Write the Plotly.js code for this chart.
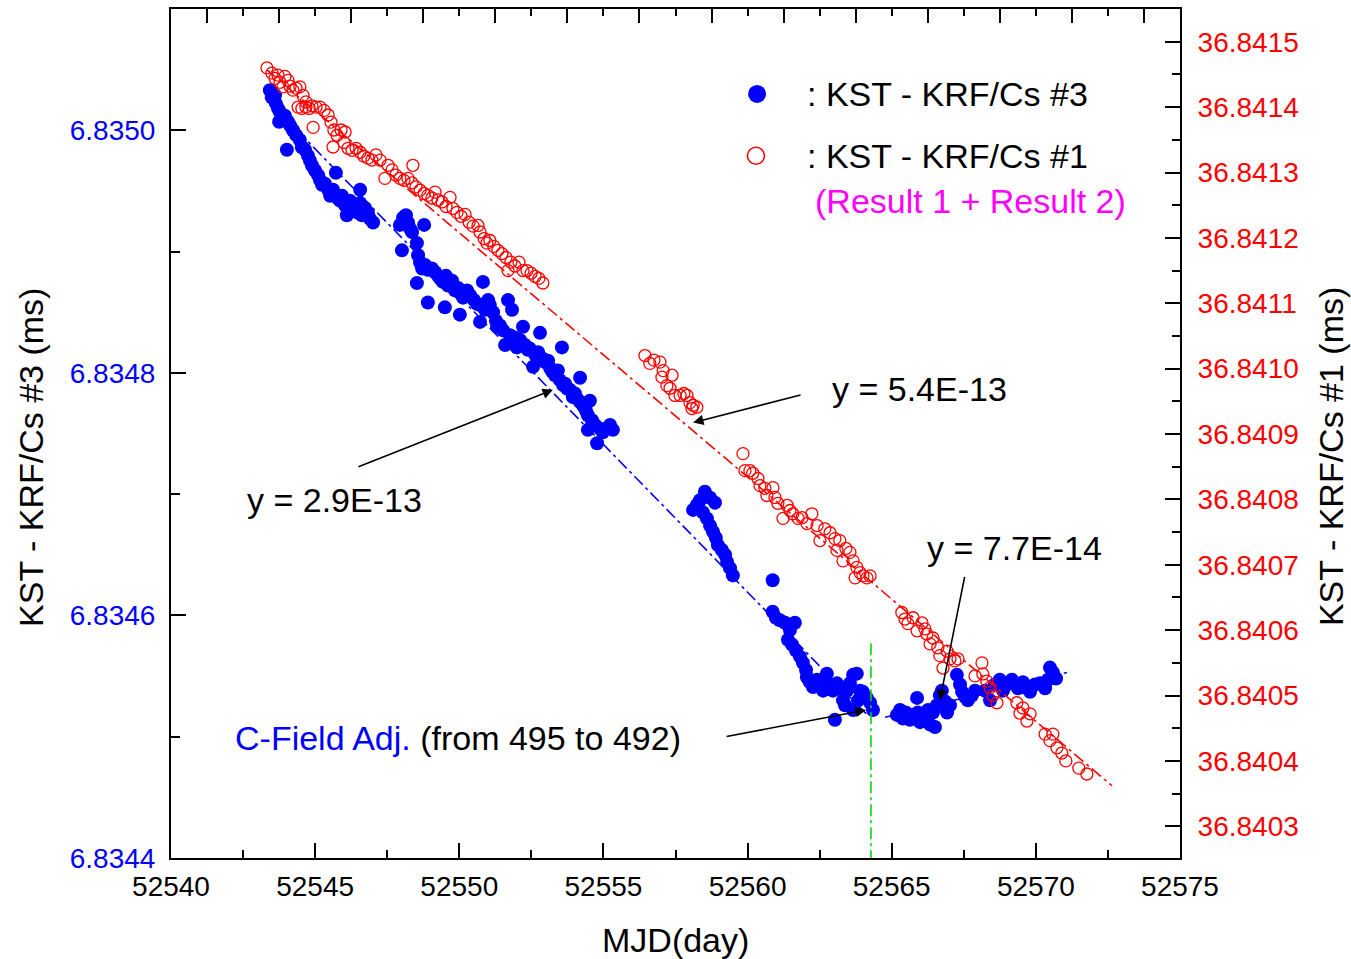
<!DOCTYPE html>
<html>
<head>
<meta charset="utf-8">
<script src="https://cdn.plot.ly/plotly-3.0.1.min.js"></script>
<style>
  html, body { margin: 0; padding: 0; background: #ffffff; }
  #chart { width: 1351px; height: 959px; }
</style>
</head>
<body>
<div id="chart"></div>
<script>
// KST - KRF/Cs #3 time differences (MJD, ms), left axis
const cs3Points = [
  [52543.43,6.835033],[52543.50,6.835027],[52543.61,6.835029],[52543.64,6.835022],[52543.71,6.835018],
  [52543.78,6.835015],[52543.85,6.835010],[52543.75,6.835007],[52543.95,6.835012],[52544.06,6.835007],
  [52544.13,6.835004],[52544.02,6.834984],[52544.23,6.835000],[52544.34,6.834996],[52544.47,6.834992],
  [52544.54,6.834986],[52544.65,6.834984],[52544.75,6.834979],[52544.82,6.834975],[52544.89,6.834971],
  [52544.99,6.834967],[52545.10,6.834963],[52545.17,6.834959],[52545.24,6.834955],[52545.34,6.834956],
  [52545.45,6.834951],[52545.52,6.834946],[52545.62,6.834951],[52545.72,6.834965],[52545.79,6.834944],
  [52545.86,6.834942],[52545.93,6.834946],[52546.04,6.834938],[52546.10,6.834930],[52546.21,6.834942],
  [52546.28,6.834936],[52546.38,6.834938],[52546.49,6.834932],[52546.56,6.834951],[52546.56,6.834940],
  [52546.63,6.834930],[52546.73,6.834936],[52546.83,6.834932],[52546.90,6.834927],[52547.01,6.834924],

  [52547.94,6.834922],[52548.05,6.834928],[52548.15,6.834930],[52548.22,6.834924],[52548.29,6.834919],
  [52548.36,6.834916],[52548.78,6.834922],[52548.01,6.834901],[52548.53,6.834907],[52548.57,6.834897],
  [52548.64,6.834891],[52548.71,6.834886],[52548.81,6.834889],[52548.91,6.834885],[52549.05,6.834886],
  [52549.16,6.834883],[52549.26,6.834880],[52549.33,6.834878],[52549.43,6.834875],[52549.54,6.834880],
  [52549.61,6.834872],[52549.68,6.834872],[52549.75,6.834876],[52549.85,6.834868],[52549.96,6.834870],
  [52550.02,6.834866],[52548.53,6.834874],[52548.91,6.834858],[52549.50,6.834854],[52550.02,6.834848],
  [52550.13,6.834862],[52550.27,6.834868],[52550.37,6.834864],[52550.51,6.834860],[52550.61,6.834857],
  [52550.72,6.834856],[52550.82,6.834875],[52550.89,6.834852],[52551.00,6.834860],[52551.06,6.834856],
  [52551.17,6.834850],[52551.27,6.834843],[52550.72,6.834842],[52551.31,6.834838],[52551.41,6.834839],
  [52551.52,6.834835],[52551.59,6.834823],[52551.69,6.834860],[52551.83,6.834852],[52551.76,6.834831],
  [52551.93,6.834829],[52552.00,6.834821],[52552.11,6.834827],[52552.21,6.834838],[52552.28,6.834823],
  [52552.38,6.834819],[52552.45,6.834820],[52552.56,6.834805],[52552.63,6.834815],[52552.73,6.834817],
  [52552.80,6.834833],[52552.87,6.834812],[52552.97,6.834809],[52553.08,6.834810],[52553.15,6.834804],
  [52553.22,6.834801],[52553.32,6.834798],[52553.42,6.834802],[52553.49,6.834794],[52553.56,6.834821],
  [52553.60,6.834790],[52553.67,6.834791],[52553.74,6.834787],[52553.84,6.834786],[52553.94,6.834780],
  [52554.01,6.834783],[52554.08,6.834779],[52554.19,6.834796],[52554.19,6.834776],[52554.29,6.834773],
  [52554.39,6.834769],[52554.46,6.834765],[52554.53,6.834777],[52554.60,6.834761],[52554.46,6.834753],
  [52554.71,6.834757],[52554.78,6.834742],[52554.88,6.834754],[52554.98,6.834751],[52555.09,6.834754],
  [52555.23,6.834757],[52555.33,6.834753],

  [52558.11,6.834687],[52558.24,6.834691],[52558.35,6.834695],[52558.52,6.834702],[52558.70,6.834697],
  [52558.87,6.834693],[52558.45,6.834685],[52558.59,6.834680],[52558.70,6.834674],[52558.80,6.834669],
  [52558.90,6.834664],[52558.97,6.834658],[52559.11,6.834654],[52559.22,6.834650],[52559.29,6.834644],
  [52559.39,6.834639],[52559.49,6.834633],[52560.87,6.834629],

  [52560.87,6.834603],[52560.98,6.834598],[52561.12,6.834596],[52561.30,6.834594],[52561.64,6.834594],
  [52561.47,6.834588],[52561.40,6.834580],[52561.54,6.834576],[52561.68,6.834571],[52561.82,6.834566],
  [52561.92,6.834561],[52562.03,6.834555],[52562.06,6.834549],[52562.16,6.834545],[52562.27,6.834541],
  [52562.41,6.834547],[52562.51,6.834543],[52562.62,6.834538],[52562.75,6.834552],[52562.86,6.834543],
  [52562.96,6.834538],[52563.10,6.834544],[52563.20,6.834540],[52563.31,6.834530],[52563.45,6.834538],
  [52563.55,6.834544],[52563.66,6.834551],[52563.79,6.834552],[52563.90,6.834538],[52564.00,6.834537],
  [52564.14,6.834532],[52564.25,6.834528],[52564.35,6.834522],[52563.66,6.834522],[52563.03,6.834514],
  [52563.38,6.834526],[52563.83,6.834530],

  [52565.18,6.834518],[52565.29,6.834522],[52565.39,6.834515],[52565.49,6.834520],[52565.63,6.834514],
  [52565.74,6.834518],[52565.88,6.834532],[52565.91,6.834520],[52565.98,6.834512],[52566.08,6.834518],
  [52566.19,6.834514],[52566.26,6.834522],[52566.33,6.834510],[52566.43,6.834520],[52566.50,6.834508],
  [52566.57,6.834526],[52566.67,6.834534],[52566.74,6.834538],[52566.85,6.834529],[52566.92,6.834520],
  [52567.02,6.834526],

  [52567.26,6.834551],[52567.37,6.834543],[52567.44,6.834537],[52567.54,6.834533],[52567.64,6.834530],
  [52567.78,6.834534],[52567.89,6.834538],[52568.23,6.834538],[52568.41,6.834530],[52568.58,6.834543],
  [52568.75,6.834547],[52568.86,6.834538],[52569.00,6.834543],[52569.17,6.834547],[52569.38,6.834540],
  [52569.55,6.834545],[52569.69,6.834540],[52569.80,6.834537],[52569.97,6.834543],[52570.14,6.834544],
  [52570.32,6.834540],[52570.42,6.834547],[52570.49,6.834557],[52570.59,6.834553],[52570.70,6.834548]
];

// KST - KRF/Cs #1 time differences (MJD, ms), right axis
const cs1Points = [
  [52543.33,36.841460],[52543.50,36.841452],[52543.61,36.841444],[52543.71,36.841449],[52543.78,36.841438],
  [52543.88,36.841431],[52543.95,36.841447],[52544.06,36.841441],[52544.13,36.841432],[52544.23,36.841426],
  [52544.34,36.841429],[52544.47,36.841431],[52544.58,36.841418],[52544.68,36.841408],[52544.79,36.841398],
  [52544.41,36.841400],[52544.54,36.841398],[52544.68,36.841400],[52544.89,36.841402],[52545.03,36.841400],
  [52545.17,36.841400],[52545.31,36.841395],[52544.93,36.841369],[52545.45,36.841388],[52545.55,36.841377],
  [52545.65,36.841365],[52545.76,36.841357],[52545.90,36.841365],[52546.04,36.841362],[52545.62,36.841339],
  [52546.00,36.841346],[52546.14,36.841337],[52546.28,36.841334],[52546.42,36.841337],[52546.56,36.841331],
  [52546.69,36.841325],[52546.83,36.841322],[52546.97,36.841319],[52547.11,36.841327],[52547.25,36.841319],
  [52547.42,36.841291],[52547.53,36.841311],[52547.67,36.841304],[52547.80,36.841296],[52547.94,36.841291],
  [52548.08,36.841288],[52548.22,36.841291],[52548.39,36.841311],[52548.36,36.841284],[52548.50,36.841278],
  [52548.64,36.841273],[52548.78,36.841268],[52548.91,36.841265],[52549.05,36.841261],[52549.16,36.841270],
  [52549.26,36.841258],[52549.40,36.841255],[52549.54,36.841248],[52549.68,36.841262],[52549.78,36.841245],
  [52549.92,36.841239],[52550.06,36.841233],[52550.20,36.841236],[52550.34,36.841224],[52550.48,36.841218],
  [52550.65,36.841219],[52550.72,36.841209],[52550.86,36.841199],[52550.96,36.841192],[52551.06,36.841196],
  [52551.20,36.841187],[52551.34,36.841181],[52551.48,36.841176],[52551.62,36.841170],[52551.69,36.841150],
  [52551.79,36.841163],[52551.93,36.841157],[52552.07,36.841163],[52552.21,36.841150],[52552.35,36.841150],
  [52552.49,36.841146],[52552.63,36.841141],[52552.76,36.841138],[52552.90,36.841131],

  [52556.44,36.841020],[52556.61,36.841008],[52556.75,36.841013],[52556.96,36.841010],[52557.07,36.840997],
  [52557.03,36.840987],[52557.20,36.840974],[52557.31,36.840970],[52557.38,36.840990],[52557.48,36.840959],
  [52557.66,36.840959],[52557.79,36.840962],[52557.90,36.840959],[52558.00,36.840948],[52558.11,36.840944],
  [52558.07,36.840939],[52558.24,36.840941],

  [52559.84,36.840870],[52559.91,36.840844],[52560.08,36.840844],[52560.18,36.840840],[52560.36,36.840832],
  [52560.43,36.840821],[52560.60,36.840817],[52560.67,36.840806],[52560.88,36.840818],[52560.95,36.840803],
  [52561.05,36.840794],[52561.23,36.840771],[52561.37,36.840791],[52561.47,36.840783],[52561.57,36.840778],
  [52561.75,36.840771],[52561.89,36.840772],[52562.06,36.840763],[52562.23,36.840778],[52562.41,36.840760],
  [52562.51,36.840737],[52562.68,36.840755],[52562.86,36.840749],[52563.03,36.840740],[52563.20,36.840737],
  [52563.10,36.840722],[52563.31,36.840706],[52563.41,36.840725],[52563.55,36.840719],[52563.66,36.840706],
  [52563.73,36.840680],[52563.79,36.840696],[52563.90,36.840688],[52564.00,36.840683],[52564.14,36.840680],
  [52564.25,36.840683],

  [52565.35,36.840627],[52565.46,36.840617],[52565.56,36.840610],[52565.74,36.840619],[52565.88,36.840599],
  [52566.05,36.840611],[52566.15,36.840602],[52566.22,36.840594],[52566.33,36.840579],[52566.43,36.840588],
  [52566.60,36.840573],[52566.67,36.840561],[52566.78,36.840542],[52566.92,36.840568],[52567.02,36.840556],
  [52567.19,36.840553],[52567.30,36.840556],[52567.89,36.840530],[52568.13,36.840550],[52568.16,36.840533],
  [52568.30,36.840522],[52568.41,36.840512],[52568.51,36.840500],[52568.65,36.840489],[52569.34,36.840489],
  [52569.45,36.840473],[52569.55,36.840481],[52569.69,36.840461],[52569.80,36.840472],[52570.32,36.840441],
  [52570.49,36.840431],[52570.59,36.840441],[52570.73,36.840420],[52570.90,36.840412],[52571.04,36.840400],
  [52571.49,36.840389],[52571.77,36.840380]
];

// Linear fits and the C-field adjustment epoch
const fit3BeforeX = [52543.26, 52564.11];
const fit3BeforeY = [6.835027, 6.834519];
const fit3AfterX  = [52564.77, 52571.08];
const fit3AfterY  = [6.834516, 6.834553];
const fit1X = [52543.33, 52572.64];
const fit1Y = [36.841457, 36.840362];
const cFieldX = [52564.28, 52564.28];
const cFieldY = [6.834577, 6.8344];

// Axis ranges and ticks
const xRange  = [52540, 52575];
const y3Range = [6.8344, 6.83510];
const y1Range = [36.8402515, 36.8415501];

const FONT = 'Liberation Sans, Arial, Helvetica, sans-serif';
const BLUE = '#0000ff', RED = '#ff0000', GREEN = '#00dd00', MAGENTA = '#ff00ff';

const dashDot = '12px,4px,3px,4px';

const traces = [
  { x: fit3BeforeX, y: fit3BeforeY, mode: 'lines', yaxis: 'y',
    line: { color: BLUE, width: 1.6, dash: dashDot }, hoverinfo: 'skip' },
  { x: fit3AfterX, y: fit3AfterY, mode: 'lines', yaxis: 'y',
    line: { color: BLUE, width: 1.6, dash: dashDot }, hoverinfo: 'skip' },
  // the C-field marker lives on the top (mirror) x axis, which shares the bottom range
  { x: cFieldX, y: cFieldY, mode: 'lines', xaxis: 'x2', yaxis: 'y',
    line: { color: GREEN, width: 1.6, dash: dashDot }, hoverinfo: 'skip' },
  { x: fit1X, y: fit1Y, mode: 'lines', yaxis: 'y2',
    line: { color: RED, width: 1.6, dash: dashDot }, hoverinfo: 'skip' },
  { name: 'KST - KRF/Cs #3', x: cs3Points.map(p => p[0]), y: cs3Points.map(p => p[1]),
    mode: 'markers', yaxis: 'y',
    marker: { symbol: 'circle', size: 14, color: BLUE, line: { width: 0 } } },
  { name: 'KST - KRF/Cs #1', x: cs1Points.map(p => p[0]), y: cs1Points.map(p => p[1]),
    mode: 'markers', yaxis: 'y2',
    marker: { symbol: 'circle-open', size: 12, color: RED, line: { width: 1.3, color: RED } } }
];

const arrow = (x, y, ax, ay) => ({
  x, y, ax, ay, xref: 'x', yref: 'y', axref: 'x', ayref: 'y', text: '',
  showarrow: true, arrowhead: 2, arrowsize: 1.3, arrowwidth: 1.6, arrowcolor: '#000000'
});
const label = (x, y, text, color) => ({
  x, y, xref: 'x', yref: 'y', text, showarrow: false, xanchor: 'left', yanchor: 'middle',
  font: { family: FONT, size: 34, color: color || '#000000' }
});

const annotations = [
  label(52542.57, 6.834695, 'y = 2.9E-13'),
  arrow(52553.25, 6.834786, 52546.45, 6.834722),
  label(52562.86, 6.834787, 'y = 5.4E-13'),
  arrow(52558.11, 6.834759, 52561.89, 6.834782),
  label(52566.15, 6.834656, 'y = 7.7E-14'),
  arrow(52566.67, 6.834530, 52567.54, 6.834633),
  label(52542.15, 6.834499, '<span style="color:' + BLUE + '">C-Field Adj.</span> (from 495 to 492)'),
  arrow(52564.11, 6.834522, 52559.22, 6.834500),
  // legend texts
  label(52561.99, 6.835030, ': KST - KRF/Cs #3'),
  label(52561.99, 6.834979, ': KST - KRF/Cs #1'),
  label(52562.27, 6.834942, '(Result 1 + Result 2)', MAGENTA),
  // axis titles
  { x: 0.5, y: -0.0966, xref: 'paper', yref: 'paper', text: 'MJD(day)', showarrow: false,
    xanchor: 'center', yanchor: 'middle', font: { family: FONT, size: 34, color: '#000000' } },
  { x: -0.1388, y: 0.4723, xref: 'paper', yref: 'paper', text: 'KST - KRF/Cs #3 (ms)', showarrow: false,
    textangle: -90, xanchor: 'center', yanchor: 'middle', font: { family: FONT, size: 34, color: '#000000' } },
  { x: 1.1497, y: 0.4723, xref: 'paper', yref: 'paper', text: 'KST - KRF/Cs #1 (ms)', showarrow: false,
    textangle: -90, xanchor: 'center', yanchor: 'middle', font: { family: FONT, size: 34, color: '#000000' } }
];

// legend symbols
const shapes = [
  { type: 'circle', xref: 'x', yref: 'y', xsizemode: 'pixel', ysizemode: 'pixel',
    xanchor: 52560.33, yanchor: 6.835030, x0: -9, x1: 9, y0: -9, y1: 9,
    fillcolor: BLUE, line: { width: 0 }, layer: 'above' },
  { type: 'circle', xref: 'x', yref: 'y', xsizemode: 'pixel', ysizemode: 'pixel',
    xanchor: 52560.29, yanchor: 6.834979, x0: -8.5, x1: 8.5, y0: -8.5, y1: 8.5,
    fillcolor: 'rgba(0,0,0,0)', line: { width: 1.6, color: RED }, layer: 'above' }
];

const axisCommon = {
  showline: true, linecolor: '#000000', linewidth: 2, showgrid: false, zeroline: false,
  ticks: 'inside', ticklen: 15, tickwidth: 2, tickcolor: '#000000'
};

const layout = {
  width: 1351, height: 959,
  margin: { l: 171, r: 171, t: 9, b: 101, pad: 0 },
  paper_bgcolor: '#ffffff', plot_bgcolor: '#ffffff',
  showlegend: false,
  font: { family: FONT, color: '#000000' },
  xaxis: Object.assign({}, axisCommon, {
    range: xRange, tick0: 52540, dtick: 5, tickformat: 'd',
    tickfont: { family: FONT, size: 28, color: '#000000' }, ticklabelstandoff: 2,
    minor: { dtick: 2.5, ticklen: 8, tickwidth: 2, tickcolor: '#000000', ticks: 'inside' }
  }),
  xaxis2: Object.assign({}, axisCommon, {
    range: xRange, overlaying: 'x', side: 'top', anchor: 'y', showticklabels: false,
    tick0: 52541.25, dtick: 2.5, ticklen: 14,
    minor: { tick0: 52541.25, dtick: 1.25, ticklen: 7, tickwidth: 2, tickcolor: '#000000', ticks: 'inside' }
  }),
  yaxis: Object.assign({}, axisCommon, {
    range: y3Range, tick0: 6.8344, dtick: 0.0002, tickformat: '.4f',
    tickfont: { family: FONT, size: 28, color: BLUE }, ticklabelstandoff: 8,
    minor: { dtick: 0.0001, ticklen: 9, tickwidth: 2, tickcolor: '#000000', ticks: 'inside' }
  }),
  yaxis2: Object.assign({}, axisCommon, {
    range: y1Range, overlaying: 'y', side: 'right', anchor: 'x',
    tick0: 36.8403, dtick: 0.0001, tickformat: '.4f',
    tickfont: { family: FONT, size: 28, color: RED }, ticklabelstandoff: 10,
    minor: { dtick: 0.00005, ticklen: 8, tickwidth: 2, tickcolor: '#000000', ticks: 'inside' }
  }),
  annotations, shapes
};

Plotly.newPlot('chart', traces, layout, { displayModeBar: false, staticPlot: true });
</script>
</body>
</html>
